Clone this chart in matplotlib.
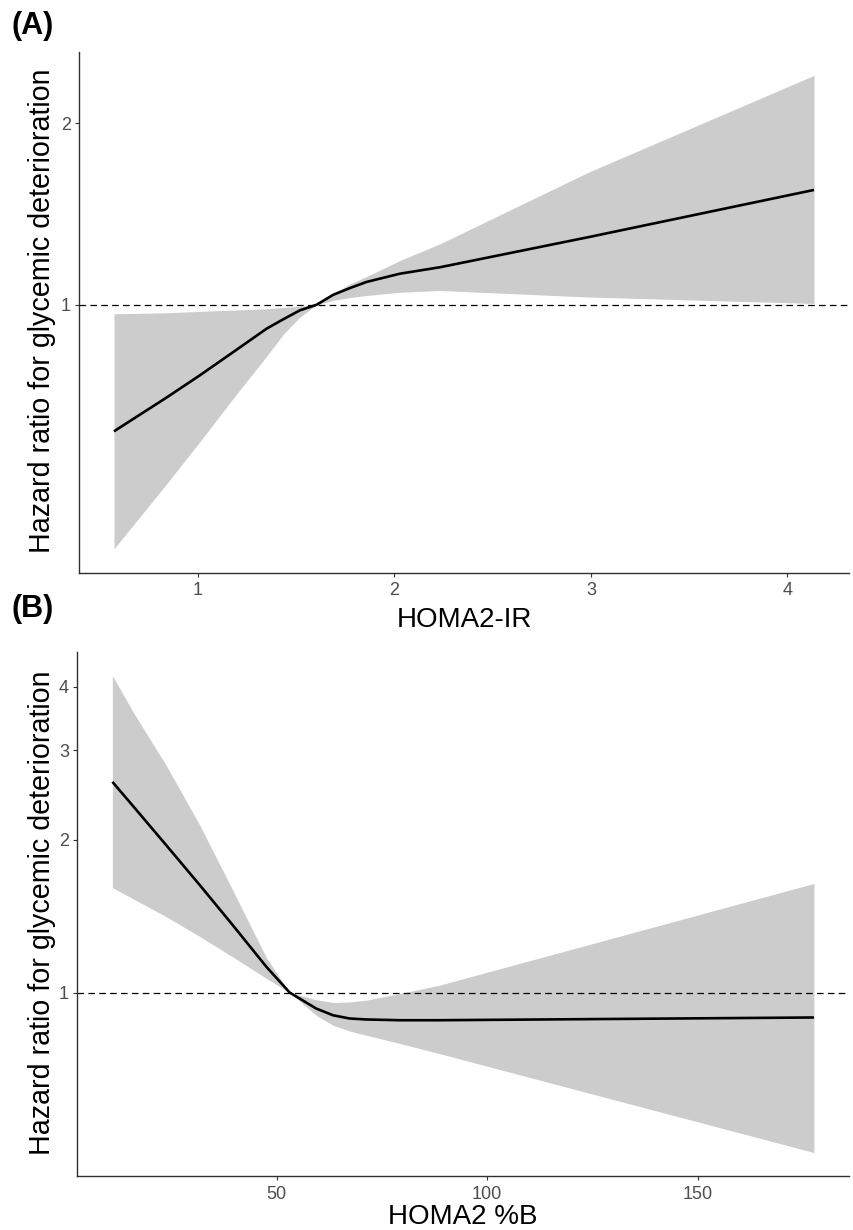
import numpy as np
import matplotlib
matplotlib.use("Agg")
import matplotlib.pyplot as plt
from matplotlib.ticker import FixedLocator, NullLocator

plt.rcParams['font.family'] = ['Liberation Sans', 'DejaVu Sans']

# Panel A: HOMA2-IR
ir_x = [0.573, 0.841, 1.010, 1.18, 1.35, 1.434, 1.519, 1.604, 1.689, 1.774, 1.858, 2.028, 2.232, 2.99, 4.135]
ir_hr = [0.617, 0.702, 0.764, 0.835, 0.913, 0.946, 0.979, 1.0, 1.039, 1.066, 1.091, 1.126, 1.154, 1.295, 1.55]
ir_hi = [0.966, 0.970, 0.975, 0.980, 0.985, 0.990, 0.994, 1.0, 1.043, 1.083, 1.114, 1.184, 1.262, 1.66, 2.40]
ir_lo = [0.394, 0.505, 0.593, 0.700, 0.822, 0.893, 0.954, 1.0, 1.017, 1.028, 1.036, 1.049, 1.056, 1.03, 1.005]

# Panel B: HOMA2 %B
b_x = [11.0, 15.9, 23.8, 31.7, 39.6, 47.6, 53.1, 59.4, 63.4, 67.3, 71.3, 79.2, 88.7, 177.6]
b_hr = [2.60, 2.33, 1.95, 1.63, 1.357, 1.123, 1.0, 0.930, 0.902, 0.889, 0.885, 0.882, 0.882, 0.893]
b_hi = [4.21, 3.57, 2.80, 2.14, 1.59, 1.17, 1.0, 0.968, 0.956, 0.958, 0.966, 0.995, 1.034, 1.64]
b_lo = [1.61, 1.53, 1.41, 1.29, 1.175, 1.066, 1.0, 0.902, 0.862, 0.840, 0.824, 0.794, 0.758, 0.484]

ir_ticks = [1, 2, 3, 4]
ir_yticks = [1, 2]
b_ticks = [50, 100, 150]
b_yticks = [1, 2, 3, 4]

W, H = 854, 1230
fig = plt.figure(figsize=(W / 100, H / 100), dpi=100)

axA = fig.add_axes([79 / W, 1 - 572.5 / H, (849 - 79) / W, (572.5 - 51.7) / H])
axB = fig.add_axes([77.3 / W, 1 - 1176.4 / H, (849 - 77.3) / W, (1176.4 - 651.7) / H])


def style(ax, x, hr, lo, hi, xticks, yticks):
    ax.fill_between(x, lo, hi, color='#CCCCCC', linewidth=0)
    ax.plot(x, hr, color='black', linewidth=1.9, solid_capstyle='butt',
            solid_joinstyle='round')
    ax.axhline(1, color='black', linewidth=0.9, linestyle=(0, (5.3, 3.4)))
    ax.set_yscale('log')
    # ggplot-style 5% expansion
    xr = max(x) - min(x)
    ax.set_xlim(min(x) - 0.05 * xr, max(x) + 0.05 * xr)
    ly = np.log([min(lo), max(hi)])
    yr = ly[1] - ly[0]
    ax.set_ylim(np.exp(ly[0] - 0.05 * yr), np.exp(ly[1] + 0.05 * yr))
    ax.xaxis.set_major_locator(FixedLocator(xticks))
    ax.yaxis.set_major_locator(FixedLocator(yticks))
    ax.yaxis.set_minor_locator(NullLocator())
    ax.set_xticklabels([str(t) for t in xticks])
    ax.set_yticklabels([str(t) for t in yticks])
    for s in ['top', 'right']:
        ax.spines[s].set_visible(False)
    for s in ['left', 'bottom']:
        ax.spines[s].set_color('#303030')
        ax.spines[s].set_linewidth(1.0)
    ax.tick_params(length=3, width=0.8, color='#333333', labelcolor='#4D4D4D',
                   labelsize=13)
    ax.tick_params(axis='x', pad=4)
    ax.tick_params(axis='y', pad=3)


style(axA, ir_x, ir_hr, ir_lo, ir_hi, ir_ticks, ir_yticks)
style(axB, b_x, b_hr, b_lo, b_hi, b_ticks, b_yticks)

ylab = 'Hazard ratio for glycemic deterioration'
fig.text(42 / W, 1 - 311 / H, ylab, rotation=90, ha='center', va='center', fontsize=20.6)
fig.text(42 / W, 1 - 913 / H, ylab, rotation=90, ha='center', va='center', fontsize=20.6)

fig.text(464 / W, 1 - 626.7 / H, 'HOMA2-IR', ha='center', va='baseline', fontsize=20)
fig.text(463 / W, 1 - 1224 / H, 'HOMA2 %B', ha='center', va='baseline', fontsize=20)

fig.text(12 / W, 1 - 34 / H, '(A)', ha='left', va='baseline', fontsize=22, fontweight='bold')
fig.text(12 / W, 1 - 617 / H, '(B)', ha='left', va='baseline', fontsize=22, fontweight='bold')

fig.savefig('out.png', dpi=100)
